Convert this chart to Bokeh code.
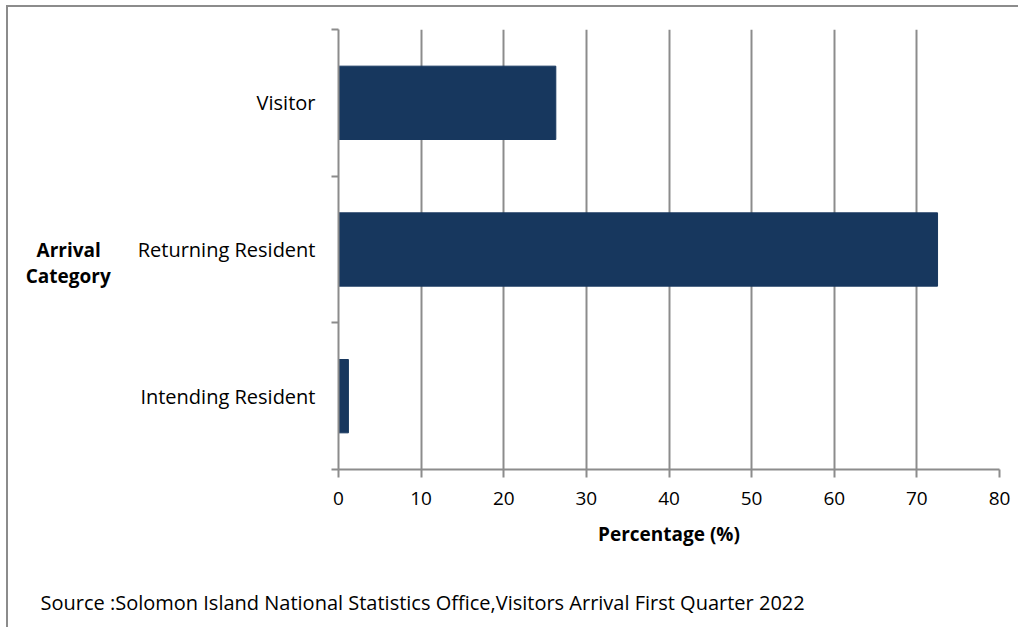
from bokeh.plotting import figure
from bokeh.models import FixedTicker, Range1d, Title
from bokeh.embed import file_html
from bokeh.resources import INLINE

categories = ["Intending Resident", "Returning Resident", "Visitor"]
percentages = [1.2, 72.5, 26.3]
x_ticks = [0, 10, 20, 30, 40, 50, 60, 70, 80]
x_axis_title = "Percentage (%)"
y_axis_title = "\u00a0\nArrival\u00a0\u00a0\nCategory"
source_note = "Source :Solomon Island National Statistics Office,Visitors Arrival First Quarter 2022"

FONT = "Open Sans"
GRAY = "#8c8c8c"
BAR = "#17375e"
FS = "20px"
FSB = "19px"

centers = [i + 0.5 for i in range(len(categories))]
bounds = [float(i) for i in range(len(categories) + 1)]

p = figure(width=1012, height=622,
           x_range=Range1d(x_ticks[0], x_ticks[-1]),
           y_range=Range1d(bounds[0], bounds[-1]),
           output_backend="svg", toolbar_location=None,
           min_border_left=330, min_border_right=21,
           min_border_top=22, min_border_bottom=160)
p.outline_line_color = None
p.background_fill_color = "white"
p.border_fill_color = "white"
p.styles = {"border-top": "2px solid #8c8c8c", "border-left": "2px solid #8c8c8c",
            "margin-left": "6px", "margin-top": "5px"}

p.hbar(y=centers, right=percentages, left=0, height=0.5,
       fill_color=BAR, line_color=BAR)

# x axis
xa = p.xaxis[0]
xa.ticker = FixedTicker(ticks=x_ticks, minor_ticks=[])
xa.axis_line_color = GRAY
xa.axis_line_width = 2
xa.major_tick_line_color = GRAY
xa.major_tick_line_width = 2
xa.major_tick_out = 8
xa.major_tick_in = 0
xa.minor_tick_line_color = None
xa.major_label_text_font = FONT
xa.major_label_text_font_size = FSB
xa.major_label_text_color = "black"
xa.major_label_standoff = 14
xa.axis_label = x_axis_title
xa.axis_label_text_font = FONT
xa.axis_label_text_font_size = FSB
xa.axis_label_text_font_style = "bold"
xa.axis_label_text_color = "black"
xa.axis_label_standoff = 13

# y axis
ya = p.yaxis[0]
ya.ticker = FixedTicker(ticks=centers, minor_ticks=bounds)
ya.major_label_overrides = {c: name for c, name in zip(centers, categories)}
ya.axis_line_color = GRAY
ya.axis_line_width = 2
ya.major_tick_line_color = None
ya.major_tick_out = 7
ya.major_tick_in = 0
ya.minor_tick_line_color = GRAY
ya.minor_tick_line_width = 2
ya.minor_tick_out = 7
ya.minor_tick_in = 0
ya.major_label_text_font = FONT
ya.major_label_text_font_size = FS
ya.major_label_text_color = "black"
ya.major_label_standoff = 16
ya.axis_label = y_axis_title
ya.axis_label_orientation = "horizontal"
ya.axis_label_text_font = FONT
ya.axis_label_text_font_size = FSB
ya.axis_label_text_font_style = "bold"
ya.axis_label_text_color = "black"
ya.axis_label_text_align = "center"
ya.axis_label_text_line_height = 1.0
ya.axis_label_standoff = 24

p.xgrid.ticker = FixedTicker(ticks=x_ticks)
p.xgrid.grid_line_color = GRAY
p.xgrid.grid_line_width = 2
p.ygrid.grid_line_color = None

p.add_layout(Title(text="\u00a0\n" + source_note, align="left", offset=-298,
                   standoff=0, vertical_align="top", text_line_height=1.45,
                   text_font=FONT, text_font_size=FS, text_font_style="normal",
                   text_color="black"), "below")

open("out.html", "w").write(file_html(p, INLINE))
